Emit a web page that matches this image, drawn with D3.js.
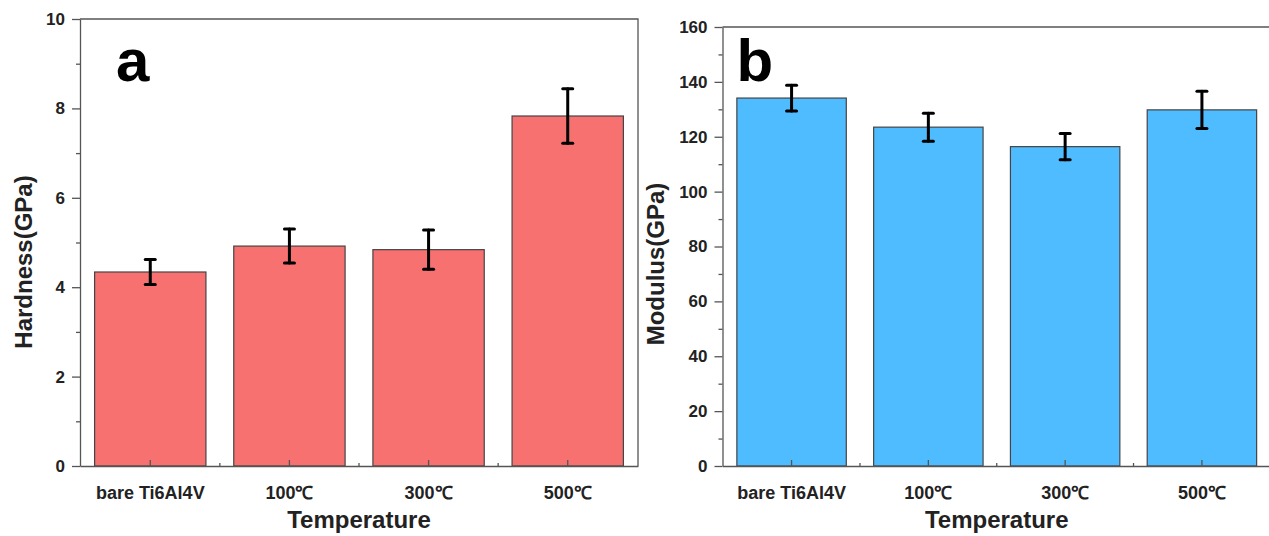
<!DOCTYPE html>
<html>
<head>
<meta charset="utf-8">
<script src="https://cdn.jsdelivr.net/npm/d3@7"></script>
<style>
  body { margin: 0; background: #fff; }
  svg { display: block; }
  text { font-family: "Liberation Sans", Arial, sans-serif; font-weight: bold; }
</style>
</head>
<body>
<div id="chart"></div>
<script>
// categories shared by both panels
const categories = ["bare Ti6Al4V", "100\u2103", "300\u2103", "500\u2103"];

// panel a: hardness (GPa)
const hardness = [4.34, 4.92, 4.84, 7.83];
const hardnessErr = [0.28, 0.38, 0.44, 0.61];
const hardnessTicks = [0, 2, 4, 6, 8, 10];

// panel b: modulus (GPa)
const modulus = [134.1, 123.5, 116.4, 129.8];
const modulusErr = [4.7, 5.1, 4.8, 6.8];
const modulusTicks = [0, 20, 40, 60, 80, 100, 120, 140, 160];

const svg = d3.select("#chart").append("svg")
    .attr("width", 1269)
    .attr("height", 536);

function drawPanel(opt) {
    const data = categories.map((c, i) => ({cat: c, v: opt.values[i], e: opt.errors[i]}));

    const x = d3.scaleBand()
        .domain(categories)
        .range([opt.left, opt.right])
        .paddingInner(0.2)
        .paddingOuter(0.105);

    const y = d3.scaleLinear()
        .domain([0, opt.max])
        .range([opt.bottom, opt.top]);

    const g = svg.append("g");

    // bars
    g.selectAll("rect.bar")
        .data(data)
        .join("rect")
        .attr("class", "bar")
        .attr("x", d => x(d.cat))
        .attr("y", d => y(d.v))
        .attr("width", x.bandwidth())
        .attr("height", d => y(0) - y(d.v))
        .attr("fill", opt.color)
        .attr("stroke", "#444")
        .attr("stroke-width", 1.2);

    // error bars
    const err = g.selectAll("g.err")
        .data(data)
        .join("g")
        .attr("class", "err")
        .attr("stroke", "#000")
        .attr("stroke-width", 3)
        .attr("stroke-linecap", "round");
    const cx = d => x(d.cat) + x.bandwidth() / 2;
    err.append("line")
        .attr("x1", cx).attr("x2", cx)
        .attr("y1", d => y(d.v + d.e)).attr("y2", d => y(d.v - d.e));
    err.append("line")
        .attr("x1", d => cx(d) - 5).attr("x2", d => cx(d) + 5)
        .attr("y1", d => y(d.v + d.e)).attr("y2", d => y(d.v + d.e));
    err.append("line")
        .attr("x1", d => cx(d) - 5).attr("x2", d => cx(d) + 5)
        .attr("y1", d => y(d.v - d.e)).attr("y2", d => y(d.v - d.e));

    // frame (top & right)
    g.append("path")
        .attr("d", `M${opt.left},${opt.top}H${opt.right}V${opt.bottom}`)
        .attr("fill", "none")
        .attr("stroke", "#555")
        .attr("stroke-width", 1.3);

    // y axis, minor ticks first
    const step = opt.ticks[1] - opt.ticks[0];
    const minor = d3.range(step / 2, opt.max, step);
    g.append("g")
        .attr("transform", `translate(${opt.left},0)`)
        .call(d3.axisLeft(y).tickValues(minor).tickSize(4).tickFormat(""))
        .call(a => a.select(".domain").remove())
        .selectAll("line").attr("stroke", "#555").attr("stroke-width", 1.3);

    const ya = g.append("g")
        .attr("transform", `translate(${opt.left},0)`)
        .call(d3.axisLeft(y).tickValues(opt.ticks).tickSize(8).tickSizeOuter(0).tickPadding(7));
    ya.selectAll("line").attr("stroke", "#555").attr("stroke-width", 1.3);
    ya.select(".domain").attr("stroke", "#555").attr("stroke-width", 1.3);
    ya.selectAll("text").attr("font-size", "17px").attr("fill", "#222");

    // x axis with inward ticks
    const xa = g.append("g")
        .attr("transform", `translate(0,${opt.bottom})`)
        .call(d3.axisBottom(x).tickSizeInner(-6).tickSizeOuter(0).tickPadding(0));
    xa.select(".domain").attr("stroke", "#555").attr("stroke-width", 1.3);
    xa.selectAll("line").attr("stroke", "#555").attr("stroke-width", 1.3);
    xa.selectAll("text")
        .attr("y", 27)
        .attr("dy", "0.35em")
        .attr("font-size", "18px")
        .attr("fill", "#222");

    // minor x ticks between categories
    const mids = categories.slice(1).map(c => x(c) - x.step() * x.paddingInner() / 2);
    g.selectAll("line.xminor")
        .data(mids)
        .join("line")
        .attr("class", "xminor")
        .attr("x1", d => d).attr("x2", d => d)
        .attr("y1", opt.bottom).attr("y2", opt.bottom - 3)
        .attr("stroke", "#555").attr("stroke-width", 1.3);

    // axis titles
    g.append("text")
        .attr("x", (opt.left + opt.right) / 2)
        .attr("y", 528)
        .attr("text-anchor", "middle")
        .attr("font-size", "24px")
        .attr("fill", "#222")
        .text("Temperature");

    g.append("text")
        .attr("transform", `translate(${opt.labelX},${opt.labelY}) rotate(-90)`)
        .attr("text-anchor", "middle")
        .attr("dominant-baseline", "central")
        .attr("font-size", "24px")
        .attr("fill", "#222")
        .text(opt.label);

    // panel letter
    g.append("text")
        .attr("x", opt.left + opt.letterDx)
        .attr("y", 81)
        .attr("font-size", "60px")
        .attr("fill", "#000")
        .text(opt.letter);
}

drawPanel({
    values: hardness, errors: hardnessErr, ticks: hardnessTicks, max: 10,
    left: 80, right: 638, top: 19, bottom: 466,
    color: "#f87171", label: "Hardness(GPa)", labelX: 23, labelY: 262, letter: "a", letterDx: 36
});

drawPanel({
    values: modulus, errors: modulusErr, ticks: modulusTicks, max: 160,
    left: 722.5, right: 1271, top: 27, bottom: 466,
    color: "#4fbcff", label: "Modulus(GPa)", labelX: 655, labelY: 264, letter: "b", letterDx: 14
});
</script>
</body>
</html>
